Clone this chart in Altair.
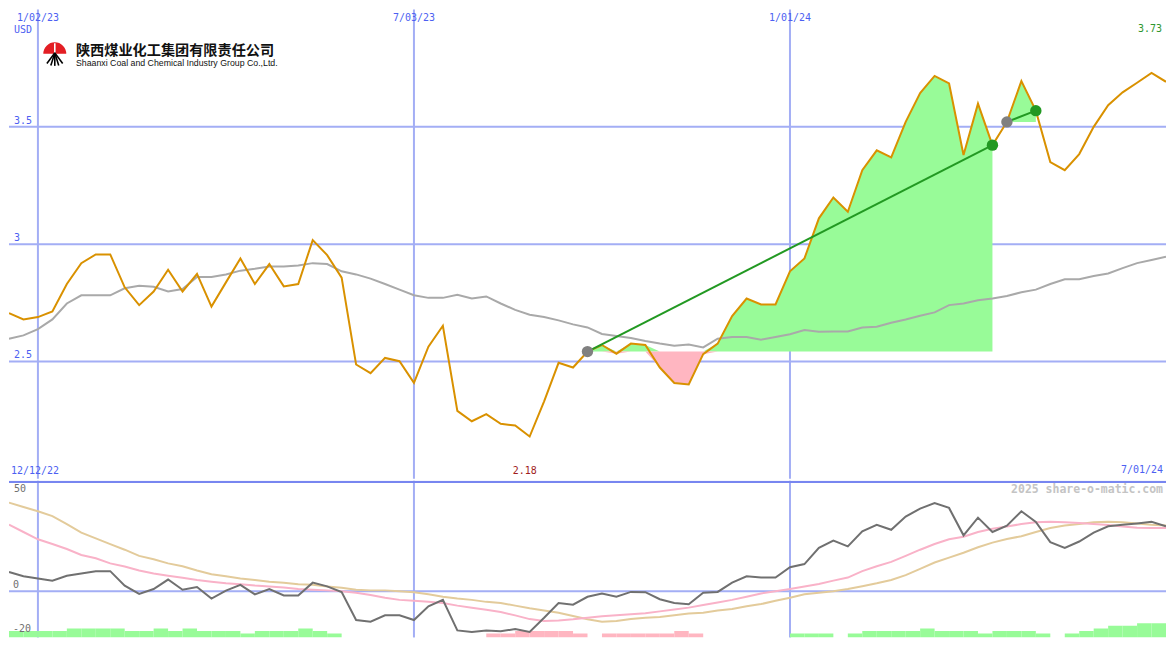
import altair as alt
import pandas as pd

# ---------------- data (weekly, week 0 = 12/19/22 ... week 80 = 7/01/24) ----------------
weeks = list(range(81))
price = [2.706, 2.679, 2.689, 2.713, 2.830, 2.919, 2.956, 2.956, 2.816, 2.740,
         2.798, 2.891, 2.798, 2.873, 2.734, 2.837, 2.939, 2.830, 2.915, 2.820,
         2.830, 3.017, 2.953, 2.857, 2.487, 2.450, 2.515, 2.501, 2.409, 2.563,
         2.652, 2.289, 2.245, 2.275, 2.234, 2.227, 2.180, 2.330, 2.494, 2.474,
         2.542, 2.570, 2.533, 2.576, 2.570, 2.474, 2.408, 2.402, 2.531, 2.576,
         2.693, 2.768, 2.743, 2.743, 2.884, 2.939, 3.110, 3.199, 3.138, 3.315,
         3.400, 3.370, 3.521, 3.644, 3.717, 3.685, 3.380, 3.599, 3.422, 3.521,
         3.695, 3.569, 3.350, 3.315, 3.384, 3.500, 3.592, 3.647, 3.688, 3.730, 3.692]
moving_avg = [2.597, 2.611, 2.638, 2.679, 2.747, 2.782, 2.782, 2.782, 2.812, 2.823,
              2.818, 2.798, 2.809, 2.860, 2.860, 2.871, 2.887, 2.895, 2.905, 2.905,
              2.909, 2.919, 2.915, 2.884, 2.871, 2.853, 2.830, 2.806, 2.782, 2.771,
              2.771, 2.784, 2.768, 2.777, 2.747, 2.720, 2.699, 2.689, 2.675, 2.658,
              2.645, 2.617, 2.608, 2.600, 2.587, 2.576, 2.567, 2.572, 2.560, 2.597,
              2.604, 2.604, 2.593, 2.604, 2.616, 2.634, 2.627, 2.628, 2.628, 2.645,
              2.648, 2.665, 2.679, 2.695, 2.709, 2.740, 2.747, 2.761, 2.768, 2.779,
              2.795, 2.806, 2.830, 2.850, 2.850, 2.864, 2.875, 2.898, 2.919, 2.932, 2.946]
oscillator = [8.7, 6.8, 5.8, 4.8, 7.0, 8.0, 9.1, 9.1, 2.5, -1.2,
              1.0, 5.3, 0.7, 1.9, -3.3, 0.3, 2.9, -1.4, 1.0, -1.9,
              -1.9, 3.9, 2.2, -0.4, -13.0, -13.8, -10.9, -10.9, -13.0, -6.8,
              -3.9, -17.7, -18.4, -17.7, -18.1, -17.1, -18.4, -12.0, -5.3, -6.1,
              -2.5, -1.0, -2.5, -0.3, -0.4, -3.6, -5.3, -5.9, -0.7, -0.3,
              3.9, 6.8, 6.2, 6.2, 10.9, 12.3, 19.6, 22.9, 20.3, 27.1,
              30.1, 27.8, 33.8, 37.4, 39.9, 37.7, 25.3, 33.3, 26.8, 29.7,
              36.2, 31.4, 22.2, 19.6, 22.5, 26.5, 29.4, 30.1, 30.7, 31.4, 29.4]
signal_fast = [30.1, 26.8, 23.5, 21.4, 19.1, 16.4, 14.9, 12.6, 11.2, 9.4,
               8.0, 7.0, 6.1, 5.1, 4.3, 3.6, 3.2, 2.6, 2.2, 1.7,
               1.0, 0.7, 0.4, 0.0, -0.7, -1.7, -2.9, -3.9, -4.3, -4.7,
               -5.3, -6.5, -7.5, -8.4, -9.4, -10.9, -12.6, -13.5, -13.2, -12.7,
               -12.0, -11.3, -10.9, -10.4, -10.0, -9.1, -8.3, -7.4, -6.2, -5.1,
               -3.9, -2.5, -1.0, 0.0, 1.0, 2.2, 3.3, 4.8, 6.2, 9.1,
               11.3, 13.3, 16.0, 18.8, 21.4, 23.5, 24.7, 26.8, 28.3, 29.3,
               30.4, 31.2, 31.4, 31.2, 30.9, 30.4, 30.0, 29.3, 28.7, 28.6, 28.6]
signal_slow = [40.1, 38.1, 36.2, 34.0, 30.4, 26.5, 23.9, 21.3, 18.8, 16.0,
               14.5, 12.6, 11.3, 9.4, 7.7, 6.8, 5.8, 5.1, 4.3, 3.9,
               3.2, 2.9, 2.2, 1.6, 0.7, 0.4, 0.4, 0.0, -0.4, -1.4,
               -2.5, -3.3, -3.9, -4.8, -5.3, -6.5, -7.7, -8.7, -9.7, -11.2,
               -12.7, -13.8, -13.5, -12.6, -12.0, -11.6, -10.9, -10.1, -9.7, -8.7,
               -8.0, -6.8, -5.8, -4.3, -2.9, -1.4, -0.7, 0.0, 1.0, 2.3,
               3.6, 5.1, 7.3, 10.1, 13.0, 15.2, 17.4, 19.9, 22.0, 23.6,
               24.9, 26.8, 28.6, 29.7, 30.4, 31.2, 31.4, 31.2, 30.7, 30.1, 29.7]
# histogram level per week interval [w, w+1], w = 0..79
histogram = [2, 2, 2, 2, 3, 3, 3, 3, 2, 2, 3, 2, 3, 2, 2, 2, 1, 2, 2, 2, 3, 2, 1,
             0, 0, 0, 0, 0, 0, 0, 0, 0, 0, -1, -1, -2, -2, -2, -2, -1, 0,
             -1, -1, -1, -1, -1, -2, -1, 0, 0, 0, 0, 0, 0, 1, 1, 1, 0, 1,
             2, 2, 2, 2, 3, 2, 2, 2, 1, 2, 2, 2, 1, 0, 1, 2, 3, 4, 4, 5, 5]

grid_weeks = [2, 28, 54]
grid_labels = ["1/02/23", "7/03/23", "1/01/24"]
price_ticks = [2.5, 3.0, 3.5]
price_tick_labels = ["2.5", "3", "3.5"]
trend_start = [40, 69]
trend_end = [68, 71]
min_week = 36
min_label = "2.18"
last_label = "3.73"
first_date = "12/12/22"
last_date = "7/01/24"
company_cn = "陕西煤业化工集团有限责任公司"
company_en = "Shaanxi Coal and Chemical  Industry Group Co.,Ltd."
credit = "2025 share-o-matic.com"

# ---------------- layout / styles ----------------
W, H1, H2 = 1159, 470, 157
SX, SY = W / 1175, (H1 + H2) / 650
MONO = "DejaVu Sans Mono"
GRID = "#a3aef5"
SEP = "#7886f0"
LABEL = "#4d5ff2"
PRICE = "#d99100"
MA = "#a9a9a9"
UP = "#98fb98"
DOWN = "#ffb6c1"
TREND = "#229922"

xs = alt.Scale(domain=[0, 80], nice=False, zero=False)
ys_top = alt.Scale(domain=[2, 4], nice=False, zero=False)
ys_bot = alt.Scale(domain=[-20.9, 50], nice=False, zero=False)
ys_hist = alt.Scale(domain=[-0.5, 60], nice=False, zero=False)


def X(f="w:Q"):
    return alt.X(f, scale=xs, axis=None)


def YT(f):
    return alt.Y(f, scale=ys_top, axis=None)


def YB(f):
    return alt.Y(f, scale=ys_bot, axis=None)


def one(t):
    return alt.Chart(pd.DataFrame({"t": [t]}))


main = pd.DataFrame({"w": weeks, "p": price, "ma": moving_avg})

fill_rows, trend_rows = [], []
for s, (a, b) in enumerate(zip(trend_start, trend_end)):
    base = price[a]
    for w in range(a, b + 1):
        fill_rows.append({"seg": s, "w": w, "base": base,
                          "hi": max(price[w], base), "lo": min(price[w], base)})
    trend_rows.append({"seg": s, "w": a, "p": price[a], "kind": "start"})
    trend_rows.append({"seg": s, "w": b, "p": price[b], "kind": "end"})
fills = pd.DataFrame(fill_rows)
trend = pd.DataFrame(trend_rows)

# ---------------- top panel ----------------
top_layers = [
    alt.Chart(pd.DataFrame({"v": price_ticks})).mark_rule(color=GRID, strokeWidth=2).encode(y=YT("v:Q")),
    alt.Chart(pd.DataFrame({"w": grid_weeks})).mark_rule(color=GRID, strokeWidth=2).encode(x=X()),
    alt.Chart(fills).mark_area(color=UP, opacity=1, clip=True).encode(
        x=X(), y=YT("hi:Q"), y2="base:Q", detail="seg:N"),
    alt.Chart(fills).mark_area(color=DOWN, opacity=1, clip=True).encode(
        x=X(), y=YT("lo:Q"), y2="base:Q", detail="seg:N"),
    alt.Chart(main).mark_line(color=MA, strokeWidth=2, clip=True).encode(x=X(), y=YT("ma:Q")),
    alt.Chart(main).mark_line(color=PRICE, strokeWidth=2, clip=True).encode(x=X(), y=YT("p:Q")),
    alt.Chart(trend).mark_line(color=TREND, strokeWidth=2, clip=True).encode(
        x=X(), y=YT("p:Q"), detail="seg:N"),
    alt.Chart(trend).transform_filter(alt.datum.kind == "start").mark_point(
        shape="circle", filled=True, size=130, opacity=1, color="#808080", clip=True).encode(
        x=X(), y=YT("p:Q")),
    alt.Chart(trend).transform_filter(alt.datum.kind == "end").mark_point(
        shape="circle", filled=True, size=130, opacity=1, color=TREND, clip=True).encode(
        x=X(), y=YT("p:Q")),
    # labels
    alt.Chart(pd.DataFrame({"w": grid_weeks, "t": grid_labels})).mark_text(
        font=MONO, fontSize=10, color=LABEL, align="center", baseline="middle").encode(
        x=X(), y=alt.value(9 * SY), text="t:N"),
    alt.Chart(pd.DataFrame({"v": price_ticks, "t": price_tick_labels})).mark_text(
        font=MONO, fontSize=10, color=LABEL, align="left", baseline="middle", dy=-6).encode(
        x=alt.value(5 * SX), y=YT("v:Q"), text="t:N"),
    one("USD").mark_text(font=MONO, fontSize=10, color=LABEL, align="left", baseline="middle").encode(
        x=alt.value(5 * SX), y=alt.value(21 * SY), text="t:N"),
    one(last_label).mark_text(font=MONO, fontSize=10, color="#2e962e", align="right", baseline="middle").encode(
        x=alt.value(W - 4), y=alt.value(20 * SY), text="t:N"),
    one(first_date).mark_text(font=MONO, fontSize=10, color=LABEL, align="left", baseline="middle").encode(
        x=alt.value(2), y=alt.value(479 * SY), text="t:N"),
    one(last_date).mark_text(font=MONO, fontSize=10, color=LABEL, align="right", baseline="middle").encode(
        x=alt.value(W - 3), y=alt.value(478 * SY), text="t:N"),
    alt.Chart(pd.DataFrame({"w": [min_week], "t": [min_label]})).mark_text(
        font=MONO, fontSize=10, color="#a01c1c", align="center", baseline="middle", dx=-5).encode(
        x=X(), y=alt.value(479 * SY), text="t:N"),
    # logo
    one("logo").mark_arc(radius=11.5, theta=4.712, theta2=7.854, color="#e31e24").encode(
        x=alt.value(46.5 * SX), y=alt.value(46 * SY)),
    one(company_cn).mark_text(font="Noto Sans CJK SC", fontSize=14.2, fontWeight="bold",
                              color="#111111", align="left", baseline="middle").encode(
        x=alt.value(68 * SX), y=alt.value(43.5 * SY), text="t:N"),
    one(company_en).mark_text(font="Liberation Sans", fontSize=8.8, color="#111111",
                              align="left", baseline="middle").encode(
        x=alt.value(68 * SX), y=alt.value(56 * SY), text="t:N"),
]

logo_lines = [((46.5, 35), (46.5, 45), "white"),
              ((46.5, 45), (38.5, 56), "black"), ((46.5, 45), (42.5, 58), "black"),
              ((46.5, 45), (46.5, 58.5), "black"), ((46.5, 45), (50.5, 58), "black"),
              ((46.5, 45), (54.5, 56), "black")]
for (x1, y1), (x2, y2), c in logo_lines:
    top_layers.append(alt.Chart(pd.DataFrame({"a": [0]})).mark_rule(color=c, strokeWidth=1.6).encode(
        x=alt.value(x1 * SX), y=alt.value(y1 * SY), x2=alt.value(x2 * SX), y2=alt.value(y2 * SY)))

top = alt.layer(*top_layers).properties(width=W, height=H1)

# ---------------- bottom panel ----------------
osc_df = pd.DataFrame({"w": weeks, "o": oscillator, "f": signal_fast, "s": signal_slow})
hist_df = pd.DataFrame({"w": list(range(80)), "h": histogram})
hist_df = hist_df[hist_df["h"] != 0].copy()
hist_df["w2"] = hist_df["w"] + 1
hist_df["ah"] = hist_df["h"].abs()


def hist_layer(sign_filter, color):
    return alt.Chart(hist_df).transform_filter(sign_filter).mark_rect(color=color, clip=True).encode(
        x=X(), x2="w2:Q",
        y=alt.Y("ah:Q", scale=ys_hist, axis=None), y2=alt.datum(-0.5))


bot_layers = [
    alt.Chart(pd.DataFrame({"v": [0]})).mark_rule(color=GRID, strokeWidth=2).encode(y=YB("v:Q")),
    alt.Chart(pd.DataFrame({"w": grid_weeks})).mark_rule(color=GRID, strokeWidth=2).encode(x=X()),
    hist_layer(alt.datum.h > 0, UP),
    hist_layer(alt.datum.h < 0, DOWN),
    alt.Chart(osc_df).mark_line(color="#e3cb9b", strokeWidth=2, clip=True).encode(x=X(), y=YB("s:Q")),
    alt.Chart(osc_df).mark_line(color="#f9b2c8", strokeWidth=2, clip=True).encode(x=X(), y=YB("f:Q")),
    alt.Chart(osc_df).mark_line(color="#707070", strokeWidth=2, clip=True).encode(x=X(), y=YB("o:Q")),
    alt.Chart(pd.DataFrame({"v": [0, -20], "t": ["0", "-20"]})).mark_text(
        font=MONO, fontSize=10, color="#707070", align="left", baseline="middle", dy=-6).encode(
        x=alt.value(4 * SX), y=YB("v:Q"), text="t:N"),
    one("50").mark_text(font=MONO, fontSize=10, color="#707070", align="left", baseline="middle").encode(
        x=alt.value(5 * SX), y=alt.value(9 * SY), text="t:N"),
    one(credit).mark_text(font=MONO, fontSize=11.5, fontWeight="bold", color="#c4c4c4",
                          align="right", baseline="middle").encode(
        x=alt.value(W - 3), y=alt.value(9.5 * SY), text="t:N"),
    alt.Chart(pd.DataFrame({"a": [0]})).mark_rule(color=SEP, strokeWidth=2.4, clip=True).encode(
        x=alt.value(0), x2=alt.value(W), y=alt.value(1.2)),
]
bottom = alt.layer(*bot_layers).resolve_scale(y="independent").properties(width=W, height=H2)

chart = alt.vconcat(top, bottom, spacing=0).properties(
    padding=0, background="white").configure_view(strokeWidth=0)

chart.save("out.html", embed_options={"renderer": "svg", "actions": False})
